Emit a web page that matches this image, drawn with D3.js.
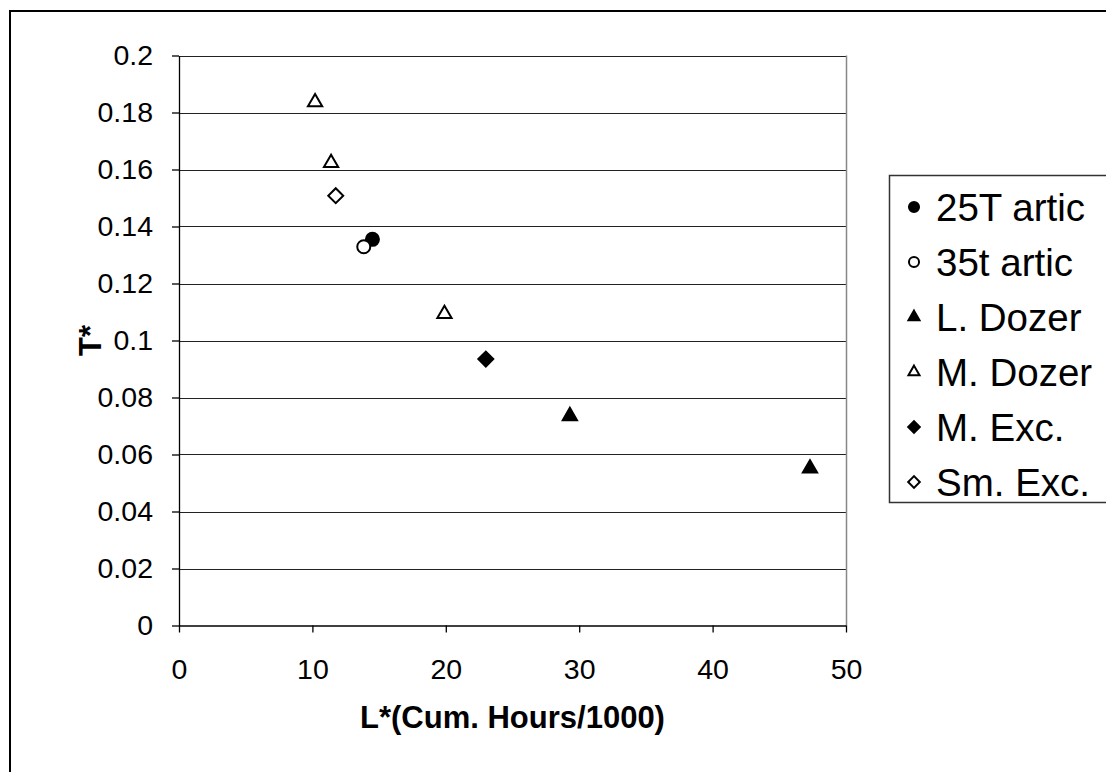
<!DOCTYPE html>
<html>
<head>
<meta charset="utf-8">
<script src="https://cdn.jsdelivr.net/npm/d3@7"></script>
<style>
  body { margin: 0; background: #fff; }
  text { font-family: "Liberation Sans", Arial, sans-serif; fill: #000; }
</style>
</head>
<body>
<div id="chart"></div>
<script>
// Series
var seriesNames = ["25T artic", "35t artic", "L. Dozer", "M. Dozer", "M. Exc.", "Sm. Exc."];
var artic25X = [14.5];
var artic25Y = [0.1355];
var artic35X = [13.85];
var artic35Y = [0.1329];
var lDozerX = [29.3, 47.3];
var lDozerY = [0.0735, 0.0551];
var mDozerX = [10.2, 11.4, 19.9];
var mDozerY = [0.1836, 0.1623, 0.1093];
var mExcX = [23.0];
var mExcY = [0.0935];
var smExcX = [11.75];
var smExcY = [0.1508];
var xTicks = [0, 10, 20, 30, 40, 50];
var yTicks = [0, 0.02, 0.04, 0.06, 0.08, 0.1, 0.12, 0.14, 0.16, 0.18, 0.2];

var seriesX = [artic25X, artic35X, lDozerX, mDozerX, mExcX, smExcX];
var seriesY = [artic25Y, artic35Y, lDozerY, mDozerY, mExcY, smExcY];
var shapes = ["circle", "circle", "triangle", "triangle", "diamond", "diamond"];
var filled = [true, false, true, false, true, false];

var width = 1106, height = 772;
var plot = { left: 179, right: 846, top: 55.5, bottom: 625.5 };

var svg = d3.select("#chart").append("svg")
    .attr("width", width)
    .attr("height", height)
    .style("background", "#fff");

// outer chart border (runs off right and bottom)
svg.append("rect")
    .attr("x", 10).attr("y", 11)
    .attr("width", 1200).attr("height", 1000)
    .attr("fill", "none").attr("stroke", "#000").attr("stroke-width", 2);

var x = d3.scaleLinear().domain([0, 50]).range([plot.left, plot.right]);
var y = d3.scaleLinear().domain([0, 0.2]).range([plot.bottom, plot.top]);

// gridlines
svg.append("g")
    .selectAll("line")
    .data(yTicks.filter(function(d) { return d > 0; }))
    .enter().append("line")
    .attr("x1", plot.left).attr("x2", plot.right)
    .attr("y1", function(d) { return Math.round(y(d)) + 0.5; })
    .attr("y2", function(d) { return Math.round(y(d)) + 0.5; })
    .attr("stroke", "#222").attr("stroke-width", 1);

// plot area right border
svg.append("line")
    .attr("x1", plot.right + 0.5).attr("x2", plot.right + 0.5)
    .attr("y1", plot.top).attr("y2", plot.bottom)
    .attr("stroke", "#888").attr("stroke-width", 1.5);

// axes
var xAxis = svg.append("g")
    .attr("transform", "translate(0," + (plot.bottom) + ")")
    .call(d3.axisBottom(x).tickValues(xTicks).tickSize(7).tickSizeOuter(0).tickPadding(26));
var yAxis = svg.append("g")
    .attr("transform", "translate(" + plot.left + ",0)")
    .call(d3.axisLeft(y).tickValues(yTicks).tickSize(7).tickSizeOuter(0).tickPadding(19)
        .tickFormat(function(d) { return d3.format("")(+d.toFixed(2)); }));

[xAxis, yAxis].forEach(function(a) {
    a.selectAll("path, line").attr("stroke", "#000").attr("stroke-width", 1.3);
    a.selectAll("text").style("font-size", "28.5px")
        .style("font-family", "'Liberation Sans', Arial, sans-serif");
});
xAxis.selectAll("text").attr("dy", "0.71em");

// axis titles
svg.append("text")
    .attr("x", (plot.left + plot.right) / 2)
    .attr("y", 728)
    .attr("text-anchor", "middle")
    .style("font-size", "31px").style("font-weight", "bold")
    .text("L*(Cum. Hours/1000)");

svg.append("text")
    .attr("transform", "translate(101," + ((plot.top + plot.bottom) / 2) + ") rotate(-90)")
    .attr("text-anchor", "middle")
    .style("font-size", "31px").style("font-weight", "bold")
    .text("T*");

function markerPath(shape, scale) {
    if (shape === "circle") return d3.symbol(d3.symbolCircle, 133 * scale)();
    if (shape === "triangle") return d3.symbol(d3.symbolTriangle, 88 * scale)();
    return d3.symbol(d3.symbolSquare, 112 * scale)();
}

function drawMarker(g, i, scale) {
    g.append("path")
        .attr("d", markerPath(shapes[i], scale))
        .attr("transform", shapes[i] === "diamond" ? "rotate(45)" : null)
        .attr("fill", filled[i] ? "#000" : "#fff")
        .attr("stroke", "#000")
        .attr("stroke-width", 2);
}

// points
seriesNames.forEach(function(name, i) {
    var pts = seriesX[i].map(function(v, j) { return { x: v, y: seriesY[i][j] }; });
    var g = svg.append("g").attr("class", "series");
    pts.forEach(function(p) {
        var m = g.append("g").attr("transform", "translate(" + x(p.x) + "," + y(p.y) + ")");
        drawMarker(m, i, 1);
    });
});

// legend
var legend = svg.append("g");
legend.append("rect")
    .attr("x", 889.5).attr("y", 175.5)
    .attr("width", 400).attr("height", 327)
    .attr("fill", "#fff").attr("stroke", "#333").attr("stroke-width", 1.5);

var rowY = d3.scaleLinear().domain([0, 5]).range([207, 482]);
seriesNames.forEach(function(name, i) {
    var row = legend.append("g").attr("transform", "translate(0," + rowY(i) + ")");
    var m = row.append("g").attr("transform", "translate(914,0)");
    drawMarker(m, i, 0.6);
    row.append("text")
        .attr("x", 936).attr("y", 0)
        .attr("dy", "0.36em")
        .style("font-size", "38.5px")
        .text(name);
});
</script>
</body>
</html>
